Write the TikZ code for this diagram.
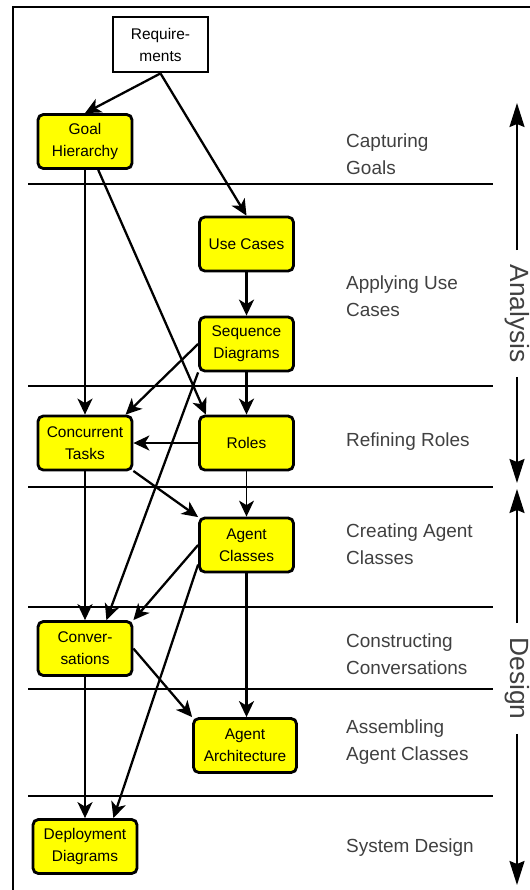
\documentclass[tikz,border=0pt]{standalone}
\usepackage{fontspec}
\setmainfont{Liberation Sans}
\usetikzlibrary{arrows.meta}
\definecolor{myellow}{rgb}{1, 1, 0}
\definecolor{mgray}{rgb}{0.25, 0.25, 0.25}

\tikzset{
  task/.style={draw, line width=1.6pt, fill=myellow, rounded corners=3pt,
    minimum width=1.88cm, minimum height=1.08cm, inner sep=0pt, align=center,
    font=\fontsize{8.8}{12.5}\selectfont},
  flow/.style={line width=1.3pt, -{Stealth[length=0.32cm, width=0.3cm, inset=0.09cm]}},
  bigflow/.style={line width=1.2pt, -{Stealth[length=0.48cm, width=0.3cm, inset=0.06cm]}},
  stage/.style={anchor=west, align=left, text=mgray, font=\fontsize{10.8}{15.3}\selectfont},
  divider/.style={line width=1.5pt},
  part/.style={rotate=-90, inner sep=8pt, text=mgray, font=\fontsize{15}{15}\selectfont},
}

\begin{document}
\begin{tikzpicture}[x=0.02cm, y=-0.02cm]
    \useasboundingbox (0, 0) rectangle (530, 890);
    \draw [line width=1.7pt] (13, 890) -- (13, 7) -- (530, 7);

    % stage dividers
    \foreach \y in {184, 386, 487, 607, 689, 796}
        \draw [divider] (28, \y) -- (493, \y);

    % boxes
    \node [draw, line width=1.6pt, fill=white, minimum width=1.9cm, minimum height=1.1cm,
      inner sep=0pt, align=center, font=\fontsize{8.8}{12.5}\selectfont] (req) at (160.5, 44.5) {Require-\\ments};
    \node [task] (goal) at (85, 141.5) {Goal\\Hierarchy};
    \node [task] (usecases) at (246.5, 244) {Use Cases};
    \node [task] (seq) at (246.5, 344) {Sequence\\Diagrams};
    \node [task] (conc) at (85, 443) {Concurrent\\Tasks};
    \node [task] (roles) at (246.5, 443) {Roles};
    \node [task] (agent) at (246.5, 545) {Agent\\Classes};
    \node [task] (conv) at (85, 648.5) {Conver-\\sations};
    \node [task, minimum width=2.06cm] (arch) at (245, 745.5) {Agent\\Architecture};
    \node [task, minimum width=2.08cm] (deploy) at (85, 846.5) {Deployment\\Diagrams};

    % stage labels
    \node [stage] (s1) at (340, 154) {Capturing\\Goals};
    \node [stage] (s2) at (340, 296) {Applying Use\\Cases};
    \node [stage] (s3) at (340, 442) {Refining Roles};
    \node [stage] (s4) at (340, 544) {Creating Agent\\Classes};
    \node [stage] (s5) at (340, 654) {Constructing\\Conversations};
    \node [stage] (s6) at (340, 742) {Assembling\\Agent Classes};
    \node [stage] (s7) at (340, 848) {System Design};

    % connectors
    \draw [flow] (req.south) -- (goal.north);
    \draw [flow] (req.south) -- (usecases.north);
    \draw [flow] (goal.south) -- (conc.north);
    \draw [flow] (goal.-65) -- (roles.145);
    \draw [flow] (usecases.south) -- (seq.north);
    \draw [flow] (seq.west) -- (conc.35);
    \draw [flow] (seq.south) -- (roles.north);
    \draw [flow] (seq.south west) -- (conv.53);
    \draw [flow] (roles.west) -- (conc.east);
    \draw [flow, line width=0.8pt] (roles.south) -- (agent.north);
    \draw [flow] (conc.-30) -- (agent.150);
    \draw [flow] (conc.south) -- (conv.north);
    \draw [flow] (agent.west) -- (conv.north east);
    \draw [flow] (agent.-158) -- (deploy.45);
    \draw [flow] (agent.south) -- (agent.south |- arch.north);
    \draw [flow] (conv.east) -- (arch.north west);
    \draw [flow] (conv.south) -- (deploy.north);

    % analysis and design
    \node [part] (analysis) at (517, 313.5) {Analysis};
    \node [part] (design) at (517, 678.5) {Design};
    \coordinate (atop) at (517, 103);
    \coordinate (abot) at (517, 483);
    \coordinate (dtop) at (517, 489);
    \coordinate (dbot) at (517, 885);
    \draw [bigflow] (analysis.west) -- (atop);
    \draw [bigflow] (analysis.east) -- (abot);
    \draw [bigflow] (design.west) -- (dtop);
    \draw [bigflow] (design.east) -- (dbot);
\end{tikzpicture}
\end{document}
